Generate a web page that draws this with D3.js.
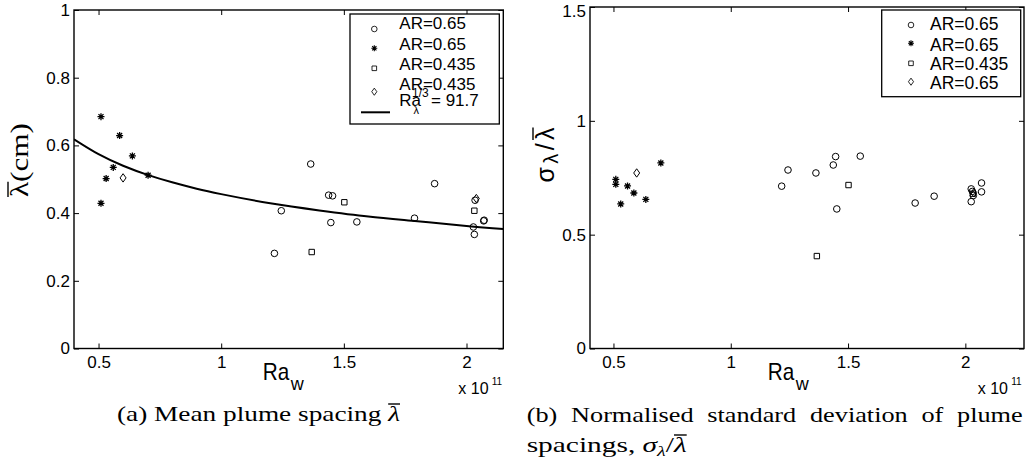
<!DOCTYPE html>
<html><head><meta charset="utf-8">
<script src="https://cdn.jsdelivr.net/npm/d3@7"></script>
<style>html,body{margin:0;padding:0;background:#fff;} svg{display:block;}</style>
</head><body>
<svg id="c" width="1031" height="464"></svg>
<script>
// ---------- data ----------
const xTicks = [0.5, 1, 1.5, 2];
const xTickLabels = ["0.5", "1", "1.5", "2"];
const yTicksA = [0, 0.2, 0.4, 0.6, 0.8, 1];
const yTickLabelsA = ["0", "0.2", "0.4", "0.6", "0.8", "1"];
const yTicksB = [0, 0.5, 1, 1.5];
const yTickLabelsB = ["0", "0.5", "1", "1.5"];

// panel (a): mean plume spacing (cm) vs Ra_w (x 1e11)
const aCircleX = [1.217, 1.245, 1.365, 1.438, 1.454, 1.447, 1.553, 1.788, 1.870, 2.028, 2.032, 2.070, 2.072, 2.035];
const aCircleY = [0.281, 0.407, 0.545, 0.453, 0.451, 0.372, 0.374, 0.385, 0.487, 0.359, 0.337, 0.377, 0.379, 0.438];
const aStarX = [0.510, 0.531, 0.560, 0.510, 0.586, 0.638, 0.702];
const aStarY = [0.685, 0.502, 0.535, 0.429, 0.629, 0.569, 0.512];
const aSquareX = [1.369, 1.502, 2.032];
const aSquareY = [0.285, 0.432, 0.407];
const aDiamondX = [0.600, 2.040];
const aDiamondY = [0.504, 0.443];
const fitX = [0.4, 0.5, 0.6, 0.7, 0.8, 0.9, 1.0, 1.2, 1.4, 1.6, 1.8, 2.0, 2.15];
const fitY = [0.618, 0.574, 0.540, 0.513, 0.491, 0.472, 0.456, 0.429, 0.408, 0.390, 0.376, 0.362, 0.353];
const legendA = ["AR=0.65", "AR=0.65", "AR=0.435", "AR=0.435"];

// panel (b): normalised standard deviation
const bCircleX = [1.217, 1.244, 1.363, 1.447, 1.437, 1.452, 1.552, 1.786, 1.867, 2.025, 2.025, 2.030, 2.034, 2.069, 2.069];
const bCircleY = [0.713, 0.784, 0.771, 0.843, 0.806, 0.613, 0.845, 0.639, 0.669, 0.701, 0.645, 0.690, 0.672, 0.727, 0.688];
const bStarX = [0.510, 0.510, 0.531, 0.560, 0.587, 0.638, 0.702];
const bStarY = [0.743, 0.721, 0.635, 0.714, 0.683, 0.655, 0.815];
const bSquareX = [1.367, 1.502, 2.032];
const bSquareY = [0.406, 0.718, 0.680];
const bDiamondX = [0.599, 2.036];
const bDiamondY = [0.771, 0.684];
const legendB = ["AR=0.65", "AR=0.65", "AR=0.435", "AR=0.65"];

// ---------- drawing ----------
const sans = "'Liberation Sans', Arial, Helvetica, sans-serif";
const serif = "'Liberation Serif', 'Times New Roman', serif";
const svg = d3.select('#c');

const markerPaths = {
  circle: "M3.3,0A3.3,3.3 0 1,1 -3.3,0A3.3,3.3 0 1,1 3.3,0Z",
  star: "M-3.5,0H3.5M0,-3.5V3.5M-2.5,-2.5L2.5,2.5M-2.5,2.5L2.5,-2.5",
  square: "M-2.7,-2.7h5.4v5.4h-5.4z",
  diamond: "M0,-4.2L3,0L0,4.2L-3,0Z"
};

function zip(xs, ys) { return xs.map((v, i) => [v, ys[i]]); }

function drawMarkers(g, pts, type, x, y) {
  g.selectAll(null).data(pts).enter().append('path')
    .attr('d', markerPaths[type])
    .attr('transform', d => `translate(${x(d[0])},${y(d[1])})`)
    .attr('fill', 'none').attr('stroke', '#000')
    .attr('stroke-width', type === 'star' ? 1.3 : 1);
}

function panel(o) {
  const g = svg.append('g');
  const x = o.x, y = o.y;
  const [x0, x1] = x.range(), [y0, y1] = y.range();
  const styleAxis = sel => {
    sel.select('.domain').remove();
    sel.selectAll('.tick line').attr('stroke', '#000').attr('stroke-width', 1);
    sel.selectAll('.tick text').attr('fill', '#000').style('font-family', sans).style('font-size', '17px');
  };
  g.append('g').attr('transform', `translate(0,${y0})`)
    .call(d3.axisBottom(x).tickValues(xTicks).tickFormat((d, i) => xTickLabels[i]).tickSizeInner(-5).tickSizeOuter(0).tickPadding(7))
    .call(styleAxis);
  g.append('g').attr('transform', `translate(0,${y1})`)
    .call(d3.axisTop(x).tickValues(xTicks).tickFormat('').tickSizeInner(-5).tickSizeOuter(0))
    .call(styleAxis);
  const yl = g.append('g').attr('transform', `translate(${x0},0)`)
    .call(d3.axisLeft(y).tickValues(o.yT).tickFormat((d, i) => o.yTL[i]).tickSizeInner(-5).tickSizeOuter(0).tickPadding(4))
    .call(styleAxis);
  // keep the topmost label inside the picture
  yl.selectAll('.tick text').filter(d => y(d) < 9).attr('dy', '0.55em');
  g.append('g').attr('transform', `translate(${x1},0)`)
    .call(d3.axisRight(y).tickValues(o.yT).tickFormat('').tickSizeInner(-5).tickSizeOuter(0))
    .call(styleAxis);
  g.append('rect').attr('x', x0).attr('y', y1).attr('width', x1 - x0).attr('height', y0 - y1)
    .attr('fill', 'none').attr('stroke', '#000').attr('stroke-width', 1.4);
  return g;
}

// ----- panel (a) -----
const xA = d3.scaleLinear([0.4, 2.15], [74, 503.3]);
const yA = d3.scaleLinear([0, 1], [348.5, 10]);
const gA = panel({x: xA, y: yA, yT: yTicksA, yTL: yTickLabelsA});
svg.append('clipPath').attr('id', 'clipA').append('rect')
  .attr('x', 74).attr('y', 10).attr('width', 503.3 - 74).attr('height', 348.5 - 10);
gA.append('path').datum(zip(fitX, fitY))
  .attr('clip-path', 'url(#clipA)')
  .attr('d', d3.line().x(d => xA(d[0])).y(d => yA(d[1])).curve(d3.curveNatural))
  .attr('fill', 'none').attr('stroke', '#000').attr('stroke-width', 2);
drawMarkers(gA, zip(aCircleX, aCircleY), 'circle', xA, yA);
drawMarkers(gA, zip(aStarX, aStarY), 'star', xA, yA);
drawMarkers(gA, zip(aSquareX, aSquareY), 'square', xA, yA);
drawMarkers(gA, zip(aDiamondX, aDiamondY), 'diamond', xA, yA);

// legend (a)
const legA = svg.append('g');
legA.append('rect').attr('x', 350).attr('y', 14).attr('width', 149.3).attr('height', 110)
  .attr('fill', '#fff').attr('stroke', '#000').attr('stroke-width', 1.3);
const legTypes = ['circle', 'star', 'square', 'diamond'];
const legAText = [22.5, 44, 64, 84];
const legAMark = [29, 48.3, 68.3, 91.7];
legendA.forEach((t, i) => {
  legA.append('path').attr('d', markerPaths[legTypes[i]])
    .attr('transform', `translate(374.3,${legAMark[i]}) scale(0.85)`)
    .attr('fill', 'none').attr('stroke', '#000').attr('stroke-width', legTypes[i] === 'star' ? 1.3 : 1);
  legA.append('text').attr('x', 399.3).attr('y', legAText[i] + 6)
    .style('font-family', sans).style('font-size', '17px').text(t);
});
legA.append('line').attr('x1', 361).attr('x2', 390).attr('y1', 112.3).attr('y2', 112.3)
  .attr('stroke', '#000').attr('stroke-width', 2);
legA.append('text').attr('x', 399.3).attr('y', 105.5).style('font-family', sans).style('font-size', '17px').text('Ra');
legA.append('text').attr('x', 413.5).attr('y', 114).style('font-family', sans).style('font-size', '11px').text('λ');
legA.append('text').attr('x', 412).attr('y', 96.5).style('font-family', sans).style('font-size', '12px').text('1/3');
legA.append('text').attr('x', 431).attr('y', 105.5).style('font-family', sans).style('font-size', '17px').text('= 91.7');

// axis labels
function raLabel(x0, xExp) {
  svg.append('text').attr('x', x0).attr('y', 380).style('font-family', sans).style('font-size', '24px')
    .attr('textLength', 26.5).attr('lengthAdjust', 'spacingAndGlyphs').text('Ra');
  svg.append('text').attr('x', x0 + 28).attr('y', 390).style('font-family', sans).style('font-size', '18px').text('w');
  svg.append('text').attr('x', xExp).attr('y', 394).style('font-family', sans).style('font-size', '16px').text('x 10');
  svg.append('text').attr('x', xExp + 33.5).attr('y', 385).style('font-family', sans).style('font-size', '10px').text('11');
}
raLabel(262.7, 458.3);

function overline(parent, textSel, idx, off) {
  const e = textSel.node().getExtentOfChar(idx);
  parent.append('line')
    .attr('x1', e.x).attr('x2', e.x + e.width)
    .attr('y1', e.y + off).attr('y2', e.y + off)
    .attr('stroke', '#000').attr('stroke-width', 1.4);
}

// y-label (a)
const ylA = svg.append('g').attr('transform', 'translate(28,160) rotate(-90)');
const ylAText = ylA.append('text').attr('text-anchor', 'middle').attr('x', 0).attr('y', 0)
  .style('font-family', serif).style('font-size', '26px')
  .attr('textLength', 74).attr('lengthAdjust', 'spacingAndGlyphs').text('λ(cm)');
overline(ylA, ylAText, 0, 3);

// caption (a)
const capA = svg.append('text').attr('x', 117).attr('y', 421)
  .style('font-family', serif).style('font-size', '22px')
  .attr('textLength', 283).attr('lengthAdjust', 'spacingAndGlyphs');
capA.append('tspan').text('(a) Mean plume spacing ');
capA.append('tspan').style('font-style', 'italic').text('λ');
overline(svg, capA, 23, 3);

// ----- panel (b) -----
const xB = d3.scaleLinear([0.4, 2.25], [590, 1024]);
const yB = d3.scaleLinear([0, 1.5], [348.5, 7]);
const gB = panel({x: xB, y: yB, yT: yTicksB, yTL: yTickLabelsB});
drawMarkers(gB, zip(bCircleX, bCircleY), 'circle', xB, yB);
drawMarkers(gB, zip(bStarX, bStarY), 'star', xB, yB);
drawMarkers(gB, zip(bSquareX, bSquareY), 'square', xB, yB);
drawMarkers(gB, zip(bDiamondX, bDiamondY), 'diamond', xB, yB);

const legB = svg.append('g');
legB.append('rect').attr('x', 881.7).attr('y', 10).attr('width', 139).attr('height', 86.7)
  .attr('fill', '#fff').attr('stroke', '#000').attr('stroke-width', 1.3);
const legBText = [24, 44.2, 64, 82.5];
const legBMark = [25, 43.3, 63.3, 81.7];
legendB.forEach((t, i) => {
  legB.append('path').attr('d', markerPaths[legTypes[i]])
    .attr('transform', `translate(911,${legBMark[i]}) scale(0.85)`)
    .attr('fill', 'none').attr('stroke', '#000').attr('stroke-width', legTypes[i] === 'star' ? 1.3 : 1);
  legB.append('text').attr('x', 930).attr('y', legBText[i] + 6.3)
    .style('font-family', sans).style('font-size', '17.5px').text(t);
});

raLabel(767.7, 977.7);

// y-label (b)
const ylB = svg.append('g').attr('transform', 'translate(554,155) rotate(-90)');
const ylBText = ylB.append('text').attr('text-anchor', 'middle')
  .style('font-family', sans).style('font-size', '25px')
  .attr('textLength', 55).attr('lengthAdjust', 'spacing');
ylBText.append('tspan').text('σ');
ylBText.append('tspan').style('font-size', '20px').attr('dy', 4).text('λ');
ylBText.append('tspan').attr('dy', -4).text('/');
ylBText.append('tspan').text('λ');
overline(ylB, ylBText, 3, 2);

// caption (b)
svg.append('text').attr('x', 526.7).attr('y', 421.5)
  .style('font-family', serif).style('font-size', '22px')
  .attr('textLength', 496).attr('lengthAdjust', 'spacingAndGlyphs')
  .attr('word-spacing', 6)
  .text('(b) Normalised standard deviation of plume');
const capB2 = svg.append('text').attr('x', 526.7).attr('y', 452)
  .style('font-family', serif).style('font-size', '22px')
  .attr('textLength', 160).attr('lengthAdjust', 'spacingAndGlyphs');
capB2.append('tspan').text('spacings, ');
capB2.append('tspan').style('font-style', 'italic').text('σ');
capB2.append('tspan').style('font-style', 'italic').style('font-size', '15px').attr('dy', 4).text('λ');
capB2.append('tspan').attr('dy', -4).text('/');
capB2.append('tspan').style('font-style', 'italic').text('λ');
overline(svg, capB2, 13, 3);
</script>
</body></html>
